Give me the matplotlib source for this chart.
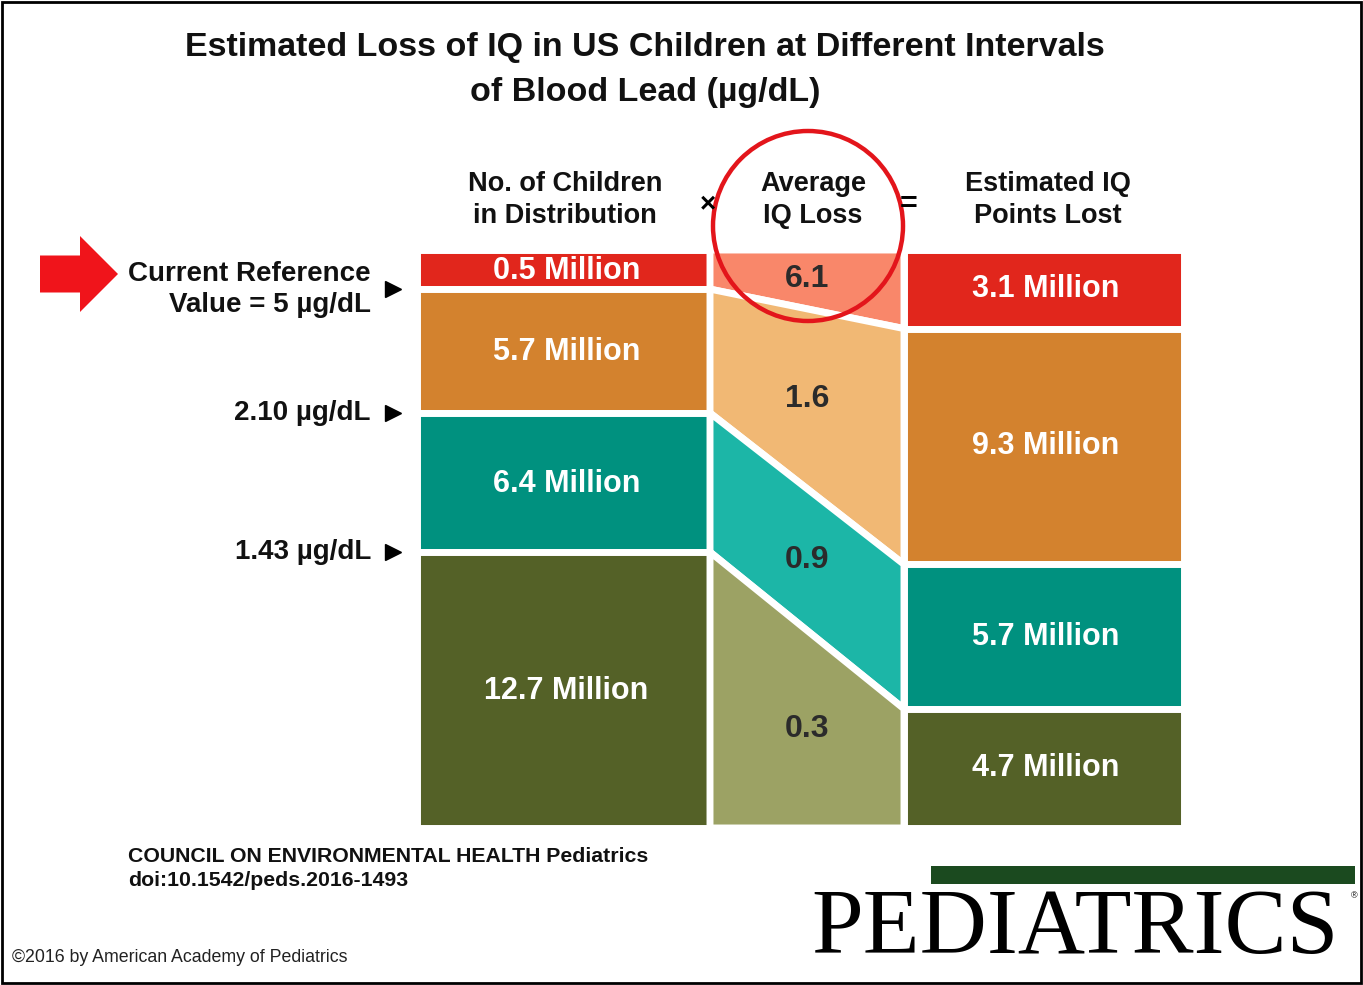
"""Estimated IQ loss in US children by blood lead interval (AAP, Pediatrics 2016)."""

import matplotlib
matplotlib.use('Agg')
import matplotlib.pyplot as plt
from matplotlib.patches import Circle, FancyArrow, Rectangle
import numpy as np

# ---- data ----
threshold_labels = ['Current Reference\nValue = 5 µg/dL', '2.10 µg/dL', '1.43 µg/dL']
children_millions = [0.5, 5.7, 6.4, 12.7]
avg_iq_loss = [6.1, 1.6, 0.9, 0.3]
iq_points_lost_millions = [3.1, 9.3, 5.7, 4.7]
column_headers = ['No. of Children\nin Distribution', 'Average\nIQ Loss', 'Estimated IQ\nPoints Lost']

# ---- layout / style ----
W, H = 1363, 985
dark_colors = ['#E1261C', '#D3822E', '#00917F', '#546127']
light_colors = ['#F9876A', '#F1B874', '#1CB6A7', '#9CA264']
col_x = [417, 710, 904, 1184]
chart_top, chart_bottom = 250, 828
min_share = 1.8  # smallest group still gets room for its label
gap_lw = 5.0
font = 'Liberation Sans'

plt.rcParams['font.family'] = [font, 'DejaVu Sans']


def stack_edges(values):
    """Top/bottom pixel rows for each block of a stacked column."""
    v = np.asarray(values, dtype=float)
    cum = np.concatenate([[0.0], np.cumsum(v)]) / v.sum()
    return chart_top + cum * (chart_bottom - chart_top)


left_edges = stack_edges(np.maximum(children_millions, min_share))
right_edges = stack_edges(iq_points_lost_millions)

fig = plt.figure(figsize=(W / 100, H / 100), dpi=100)
ax = fig.add_axes([0, 0, 1, 1])
ax.set_xlim(0, W)
ax.set_ylim(H, 0)
ax.axis('off')

# frame round the whole slide
ax.add_patch(Rectangle((2, 2), W - 4, H - 4, fill=False, ec='black', lw=2))

# title
ax.text(645, 70, 'Estimated Loss of IQ in US Children at Different Intervals\nof Blood Lead (µg/dL)',
        ha='center', va='center', fontsize=24.5, fontweight='bold', linespacing=1.55, color='#111111')

# column headers
header_x = [565, 813, 1048]
for x, label in zip(header_x, column_headers):
    ax.text(x, 200, label, ha='center', va='center', fontsize=19.5, fontweight='bold',
            linespacing=1.3, color='#111111')
ax.text(708, 204, '×', ha='center', va='center', fontsize=20, fontweight='bold')
ax.text(909, 205, '=', ha='center', va='center', fontsize=22, fontweight='bold')

# stacked columns and connecting trapezoids
left_mid = (col_x[0] + col_x[1]) / 2
mid_mid = (col_x[1] + col_x[2]) / 2
right_mid = (col_x[2] + col_x[3]) / 2
for i in range(len(children_millions)):
    ax.add_patch(Rectangle((col_x[0], left_edges[i]), col_x[1] - col_x[0],
                           left_edges[i + 1] - left_edges[i],
                           fc=dark_colors[i], ec='white', lw=gap_lw, joinstyle='round'))
    ax.fill([col_x[1], col_x[2], col_x[2], col_x[1]],
            [left_edges[i], right_edges[i], right_edges[i + 1], left_edges[i + 1]],
            fc=light_colors[i], ec='white', lw=gap_lw, joinstyle='round')
    ax.add_patch(Rectangle((col_x[2], right_edges[i]), col_x[3] - col_x[2],
                           right_edges[i + 1] - right_edges[i],
                           fc=dark_colors[i], ec='white', lw=gap_lw, joinstyle='round'))

    ax.text(left_mid + 3, (left_edges[i] + left_edges[i + 1]) / 2 + 1, f'{children_millions[i]} Million',
            ha='center', va='center', fontsize=22, fontweight='bold', color='white')
    mid_y = (left_edges[i] + left_edges[i + 1] + right_edges[i] + right_edges[i + 1]) / 4
    ax.text(mid_mid, mid_y, f'{avg_iq_loss[i]}', ha='center', va='center',
            fontsize=23, fontweight='bold', color='#2b2b2b')
    ax.text(right_mid + 2, (right_edges[i] + right_edges[i + 1]) / 2,
            f'{iq_points_lost_millions[i]} Million',
            ha='center', va='center', fontsize=22, fontweight='bold', color='white')

# blood lead thresholds on the left
for y, label in zip(left_edges[1:], threshold_labels):
    ax.text(371, y, label, ha='right', va='center', multialignment='right',
            fontsize=20, fontweight='bold', linespacing=1.25, color='#111111')
    ax.plot(393, y, marker='>', markersize=12, color='black', mec='black')

# red pointer arrow and highlight circle
ax.add_patch(FancyArrow(40, 274, 78, 0, width=37, head_width=76, head_length=38,
                        length_includes_head=True, color='#F0141B', lw=0))
ax.add_patch(Circle((808, 226), 95, fill=False, ec='#E3151B', lw=3.2))

# source notes
ax.text(128, 856, 'COUNCIL ON ENVIRONMENTAL HEALTH Pediatrics', ha='left', va='center',
        fontsize=15.3, fontweight='bold', color='#111111')
ax.text(128, 881, 'doi:10.1542/peds.2016-1493', ha='left', va='center',
        fontsize=15.3, fontweight='bold', color='#111111')
ax.text(12, 958, '©2016 by American Academy of Pediatrics', ha='left', va='center',
        fontsize=12.8, color='#222222')

# journal logo
ax.add_patch(Rectangle((931, 866), 424, 18, color='#1B4A1F', lw=0))
ax.text(811, 953, 'PEDIATRICS', ha='left', va='baseline', family='Liberation Serif',
        fontsize=67, color='black')
ax.text(1354, 896, '®', ha='center', va='center', fontsize=6.5, color='black')

fig.savefig('out.png', dpi=100)
